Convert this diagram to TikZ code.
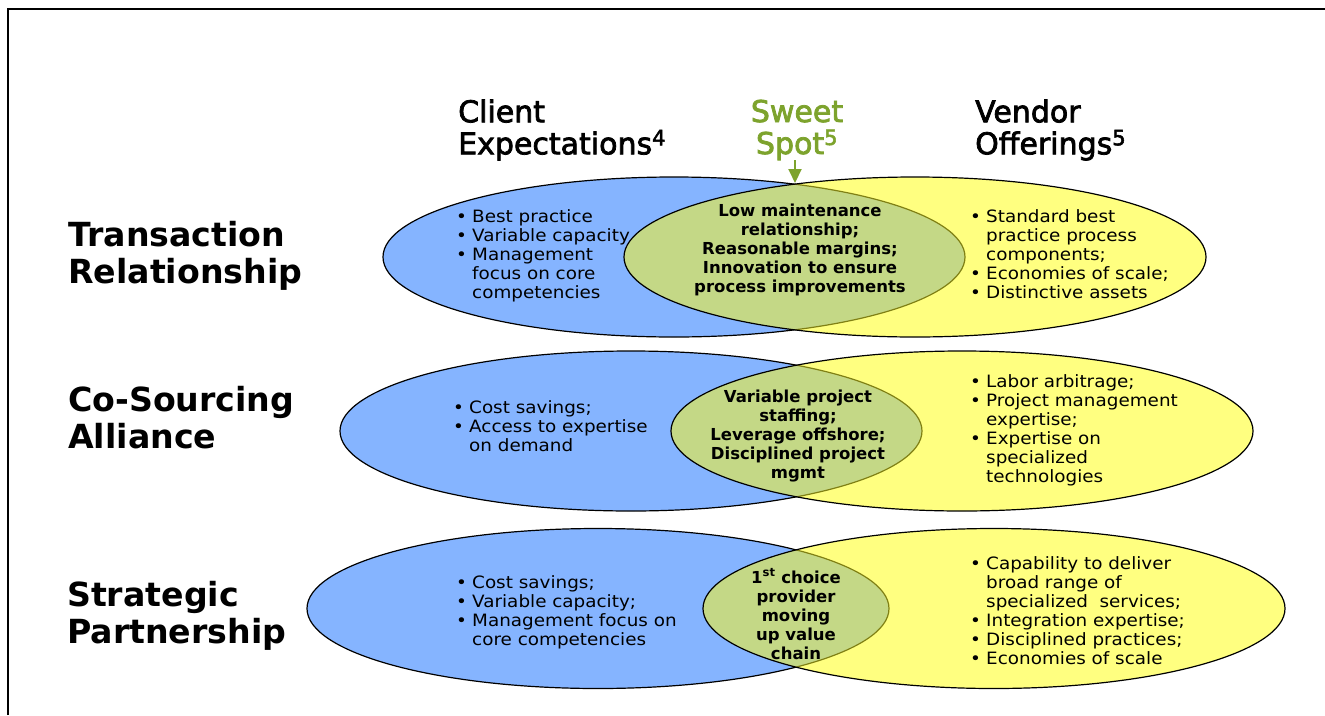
\documentclass[tikz,border=0pt]{standalone}
\usepackage{fontspec}
\setmainfont{DejaVu Sans}
\newfontfamily\listfont{DejaVu Sans}[FakeStretch=1.08]
\newfontfamily\headfont{DejaVu Sans}[FakeBold=2.5]
\usetikzlibrary{arrows.meta}

\definecolor{clientblue}{RGB}{133,180,255}
\definecolor{vendoryellow}{RGB}{255,255,128}
\definecolor{spotgreen}{RGB}{196,216,134}
\definecolor{overlapline}{RGB}{128,128,20}
\definecolor{sweetgreen}{RGB}{125,163,45}

% bullet with a fixed-width box so item texts line up
\newcommand\itm{\makebox[16pt][l]{•}}
\newcommand\ind{\hspace*{16pt}}

% one client/vendor pair: blue centre x, yellow centre x, common centre y
\newcommand\vennpair[3]{%
  \fill[clientblue] (#1,#3) ellipse [x radius=291pt, y radius=80pt];
  \draw[outline] (#1,#3) ellipse [x radius=291pt, y radius=80pt];
  \fill[vendoryellow] (#2,#3) ellipse [x radius=291pt, y radius=80pt];
  \begin{scope}
    \clip (#1,#3) ellipse [x radius=291pt, y radius=80pt];
    \fill[spotgreen] (#2,#3) ellipse [x radius=291pt, y radius=80pt];
  \end{scope}
  \begin{scope}
    \clip (#2,#3) ellipse [x radius=291pt, y radius=80pt];
    \draw[outline, draw=overlapline] (#1,#3) ellipse [x radius=291pt, y radius=80pt];
  \end{scope}
  \draw[outline] (#2,#3) ellipse [x radius=291pt, y radius=80pt];
}

\begin{document}
\begin{tikzpicture}[x=1pt, y=-1pt,
  outline/.style={draw=black, line width=1.2pt},
  bodytext/.style={font=\listfont\fontsize{17}{19}\selectfont, align=left, inner sep=0pt, anchor=west},
  spottext/.style={font=\bfseries\fontsize{16.5}{19}\selectfont, align=center, inner sep=0pt},
  rowlabel/.style={font=\bfseries\fontsize{33.2}{37}\selectfont, align=left, inner sep=0pt, anchor=west},
  header/.style={font=\headfont\fontsize{30}{32}\selectfont, inner sep=0pt},
  spotarrow/.style={draw=sweetgreen, line width=2pt, -{Triangle[length=14pt, width=13pt]}}
]
\useasboundingbox (0,0) rectangle (1325,715);

% frame
\draw[line width=2.3pt] (8,715) -- (8,9) -- (1325,9);

% column headings
\node[header, align=left, anchor=west] (client) at (458,130) {Client\\Expectations\textsuperscript{4}};
\node[header, align=center, text=sweetgreen] (sweet) at (797,130) {Sweet\\Spot\textsuperscript{5}};
\node[header, align=left, anchor=west] (vendor) at (975,130) {Vendor\\Offerings\textsuperscript{5}};

% row labels
\node[rowlabel] (transaction) at (68,256) {Transaction\\Relationship};
\node[rowlabel] (cosourcing) at (68,418) {Co-Sourcing\\Alliance};
\node[rowlabel] (strategic) at (67,616) {Strategic\\Partnership};

% the three overlapping pairs
\vennpair{674}{915}{257}
\vennpair{631}{962}{431}
\vennpair{598}{994}{608.5}

% sweet spot pointer
\coordinate (spottip) at (795,183);
\draw[spotarrow] (spottip |- sweet.south) -- (spottip);

% transaction relationship
\node[bodytext] (tr-client) at (456,256) {\itm Best practice\\\itm Variable capacity\\\itm Management\\\ind focus on core\\\ind competencies};
\node[spottext] (tr-spot) at (800,250) {Low maintenance\\relationship;\\Reasonable margins;\\Innovation to ensure\\process improvements};
\node[bodytext] (tr-vendor) at (970,254.5) {\itm Standard best\\\ind practice process\\\ind components;\\\itm Economies of scale;\\\itm Distinctive assets};

% co-sourcing alliance
\node[bodytext] (co-client) at (453,426) {\itm Cost savings;\\\itm Access to expertise\\\ind on demand};
\node[spottext] (co-spot) at (798,436) {Variable project\\staffing;\\Leverage offshore;\\Disciplined project\\mgmt};
\node[bodytext] (co-vendor) at (970,430) {\itm Labor arbitrage;\\\itm Project management\\\ind expertise;\\\itm Expertise on\\\ind specialized\\\ind technologies};

% strategic partnership
\node[bodytext] (st-client) at (456,612.5) {\itm Cost savings;\\\itm Variable capacity;\\\itm Management focus on\\\ind core competencies};
\node[spottext] (st-spot) at (796,614) {1\textsuperscript{st} choice\\provider\\moving\\up value\\chain};
\node[bodytext] (st-vendor) at (970,611) {\itm Capability to deliver\\\ind broad range of\\\ind specialized~ services;\\\itm Integration expertise;\\\itm Disciplined practices;\\\itm Economies of scale};
\end{tikzpicture}
\end{document}
